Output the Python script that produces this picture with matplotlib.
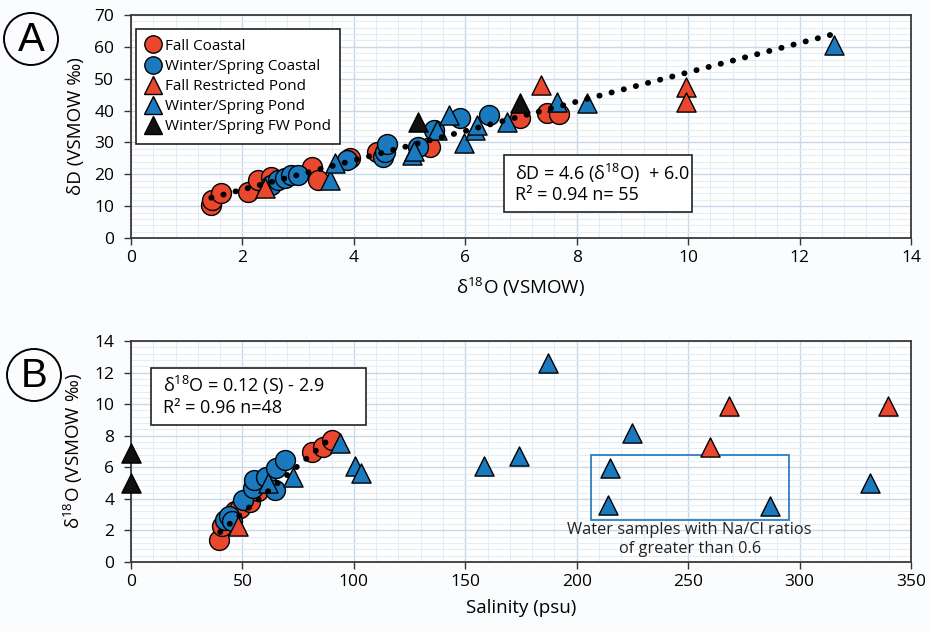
import matplotlib
matplotlib.use("Agg")
import matplotlib.pyplot as plt
from matplotlib.ticker import MultipleLocator
from matplotlib.patches import Rectangle, Ellipse
from matplotlib.lines import Line2D

plt.rcParams['font.family'] = ['Open Sans', 'DejaVu Sans']
plt.rcParams['mathtext.fontset'] = 'custom'
plt.rcParams['mathtext.rm'] = 'Open Sans'

# ---- Panel A: dD vs d18O ----
a_fall_coastal_x = [1.43, 1.45, 1.62, 2.10, 2.28, 2.52, 3.24, 3.36, 3.93, 4.41, 5.37, 6.99, 7.47, 7.68]
a_fall_coastal_y = [10.4, 11.9, 14.0, 14.5, 18.2, 19.2, 22.4, 18.2, 25.0, 27.1, 28.7, 37.6, 39.3, 38.8]

a_ws_coastal_x = [2.52, 2.64, 2.76, 2.88, 3.00, 3.87, 4.53, 4.56, 4.60, 5.16, 5.43, 5.91, 6.42]
a_ws_coastal_y = [16.6, 18.2, 18.7, 19.8, 19.8, 24.5, 25.5, 27.0, 29.5, 28.7, 33.9, 37.6, 38.6]

a_fall_pond_x = [2.40, 7.35, 9.97, 9.97]
a_fall_pond_y = [15.6, 48.0, 47.3, 42.8]

a_ws_pond_x = [3.57, 3.66, 5.04, 5.08, 5.49, 5.70, 5.97, 6.18, 6.21, 6.75, 7.65, 8.19, 12.62]
a_ws_pond_y = [18.2, 23.4, 26.0, 27.2, 33.9, 38.6, 29.7, 33.9, 35.5, 36.5, 42.8, 42.3, 60.6]

a_fw_pond_x = [5.16, 6.99]
a_fw_pond_y = [36.3, 42.3]

a_slope, a_intercept = 4.6, 6.0
a_fit_range = [1.44, 12.6]

# ---- Panel B: d18O vs salinity ----
b_fall_coastal_s = [39.6, 41.0, 46.6, 48.8, 53.3, 57.0, 81.3, 86.0, 90.0]
b_fall_coastal_o = [1.42, 2.3, 3.2, 3.4, 3.83, 4.47, 7.0, 7.3, 7.7]

b_ws_coastal_s = [42.1, 44.0, 45.5, 50.3, 54.8, 55.0, 60.8, 64.5, 65.2, 68.9]
b_ws_coastal_o = [2.68, 2.9, 2.6, 3.94, 4.68, 5.2, 5.41, 4.57, 5.94, 6.47]

b_fall_pond_s = [48.1, 259.6, 268.5, 339.6]
b_fall_pond_o = [2.26, 7.31, 9.88, 9.88]

b_ws_pond_s = [61.5, 72.7, 93.6, 100.3, 103.3, 158.5, 174.2, 187.3, 214.2, 214.8, 224.7, 286.9, 331.7]
b_ws_pond_o = [5.0, 5.41, 7.52, 6.05, 5.63, 6.05, 6.72, 12.58, 3.63, 5.94, 8.16, 3.52, 5.0]

b_fw_pond_s = [0.0, 0.0]
b_fw_pond_o = [6.9, 5.0]

b_slope, b_intercept = 0.12, -2.9
b_fit_range = [40.0, 90.0]

# Na/Cl > 0.6 highlight box (salinity, d18O)
naCl_box = [206.3, 2.68, 295.1, 6.78]

series_labels = ["Fall Coastal", "Winter/Spring Coastal", "Fall Restricted Pond",
                 "Winter/Spring Pond", "Winter/Spring FW Pond"]

RED = '#E9472E'
BLUE = '#1B79BE'
BLACK = '#111111'
CIRC_S = 205
TRI_S = 190

fig = plt.figure(figsize=(9.3, 6.33), dpi=100)
fig.patch.set_facecolor('#fbfcfe')

axA = fig.add_axes([131/930, 1-238/633, 780/930, 223/633])
axB = fig.add_axes([131/930, 1-562/633, 780/930, 221/633])


def style(ax, xmax, xmaj, xmin, ymax, ymaj, ymin):
    ax.set_xlim(0, xmax)
    ax.set_ylim(0, ymax)
    ax.xaxis.set_major_locator(MultipleLocator(xmaj))
    ax.xaxis.set_minor_locator(MultipleLocator(xmin))
    ax.yaxis.set_major_locator(MultipleLocator(ymaj))
    ax.yaxis.set_minor_locator(MultipleLocator(ymin))
    ax.set_axisbelow(True)
    ax.grid(which='major', color='#c6d9ea', lw=1.0)
    ax.grid(which='minor', color='#e4edf6', lw=0.8)
    ax.set_facecolor('white')
    ax.tick_params(which='minor', length=0)
    ax.tick_params(axis='y', which='major', direction='out', length=5, width=1,
                   color='#333333', labelsize=12.5, pad=7)
    ax.tick_params(axis='x', which='major', direction='out', length=5, width=1,
                   color='#333333', labelsize=12.5, pad=4)
    for sp in ax.spines.values():
        sp.set_color('#3a3a3a')
        sp.set_linewidth(1.3)


def draw_points(ax, x, y, marker, color, s, label=None):
    ax.scatter(x, y, s=s, marker=marker, facecolor=color, edgecolor='black',
               linewidth=1.0, zorder=3, label=label, clip_on=False)


def fit_line(ax, xr, slope, intercept):
    ys = [slope * v + intercept for v in xr]
    ax.plot(xr, ys, color='black', lw=4.2, linestyle=(0, (0.05, 2.1)),
            dash_capstyle='round', zorder=5)


# Panel A
style(axA, 14, 2, 0.4, 70, 10, 2)
draw_points(axA, a_fall_coastal_x, a_fall_coastal_y, 'o', RED, CIRC_S)
draw_points(axA, a_ws_coastal_x, a_ws_coastal_y, 'o', BLUE, CIRC_S)
draw_points(axA, a_fall_pond_x, a_fall_pond_y, '^', RED, TRI_S)
draw_points(axA, a_ws_pond_x, a_ws_pond_y, '^', BLUE, TRI_S)
draw_points(axA, a_fw_pond_x, a_fw_pond_y, '^', BLACK, TRI_S)
fit_line(axA, a_fit_range, a_slope, a_intercept)
axA.set_xlabel(r'δ$^{\mathregular{18}}$O (VSMOW)', fontsize=13.5, labelpad=6)
axA.set_ylabel('δD (VSMOW ‰)', fontsize=13.5, labelpad=7)

handles = [
    Line2D([], [], ls='none', marker='o', ms=12.5, mfc=RED, mec='black', mew=1.0),
    Line2D([], [], ls='none', marker='o', ms=12.5, mfc=BLUE, mec='black', mew=1.0),
    Line2D([], [], ls='none', marker='^', ms=12.5, mfc=RED, mec='black', mew=1.0),
    Line2D([], [], ls='none', marker='^', ms=12.5, mfc=BLUE, mec='black', mew=1.0),
    Line2D([], [], ls='none', marker='^', ms=12.5, mfc=BLACK, mec='black', mew=1.0),
]
leg = axA.legend(handles, series_labels, loc='upper left', bbox_to_anchor=(0.007, 0.935),
                 borderaxespad=0, fancybox=False, framealpha=1, edgecolor='#222222',
                 fontsize=11, handlelength=0.9, handletextpad=0.35, labelspacing=0.34,
                 borderpad=0.6)
leg.get_frame().set_linewidth(1.2)

axA.add_patch(Rectangle((0.4786, 0.1152), 0.2410, 0.2570, transform=axA.transAxes,
                        facecolor='white', edgecolor='#222222', lw=1.2, zorder=6))
axA.text(0.4923, 0.290, r'δD = 4.6 (δ$^{\mathregular{18}}$O)  + 6.0', transform=axA.transAxes,
         fontsize=13, va='center', ha='left', zorder=7)
axA.text(0.4923, 0.193, 'R² = 0.94 n= 55', transform=axA.transAxes,
         fontsize=13, va='center', ha='left', zorder=7)

# Panel B
style(axB, 350, 50, 10, 14, 2, 0.4)
draw_points(axB, b_fall_coastal_s, b_fall_coastal_o, 'o', RED, CIRC_S)
draw_points(axB, b_ws_coastal_s, b_ws_coastal_o, 'o', BLUE, CIRC_S)
draw_points(axB, b_fall_pond_s, b_fall_pond_o, '^', RED, TRI_S)
draw_points(axB, b_ws_pond_s, b_ws_pond_o, '^', BLUE, TRI_S)
draw_points(axB, b_fw_pond_s, b_fw_pond_o, '^', BLACK, TRI_S)
fit_line(axB, b_fit_range, b_slope, b_intercept)
axB.set_xlabel('Salinity (psu)', fontsize=13.5, labelpad=6)
axB.set_ylabel(r'δ$^{\mathregular{18}}$O (VSMOW ‰)', fontsize=13.5, labelpad=7)

axB.add_patch(Rectangle((naCl_box[0], naCl_box[1]), naCl_box[2] - naCl_box[0],
                        naCl_box[3] - naCl_box[1], facecolor='none',
                        edgecolor='#2f7fc1', lw=1.3, zorder=2))
axB.text((naCl_box[0] + naCl_box[2]) / 2, 1.42,
         'Water samples with Na/Cl ratios\nof greater than 0.6',
         fontsize=11.8, ha='center', va='center', linespacing=1.25, color='#222222', zorder=4)

axB.add_patch(Rectangle((0.0256, 0.620), 0.2753, 0.259, transform=axB.transAxes,
                        facecolor='white', edgecolor='#222222', lw=1.2, zorder=6))
axB.text(0.0406, 0.801, r'δ$^{\mathregular{18}}$O = 0.12 (S) - 2.9', transform=axB.transAxes,
         fontsize=13, va='center', ha='left', zorder=7)
axB.text(0.0406, 0.695, 'R² = 0.96 n=48', transform=axB.transAxes,
         fontsize=13, va='center', ha='left', zorder=7)

# Panel letters in circles
for cx, cy, letter in [(31, 39, 'A'), (34, 375, 'B')]:
    fx, fy = cx / 930, 1 - cy / 633
    fig.patches.append(Ellipse((fx, fy), 54 / 930, 52 / 633, transform=fig.transFigure,
                               facecolor='none', edgecolor='black', lw=1.4))
    fig.text(fx, fy - 0.002, letter, fontsize=29, ha='center', va='center',
             family=['Liberation Sans', 'DejaVu Sans'])

fig.savefig('out.png', dpi=100, facecolor=fig.get_facecolor())
